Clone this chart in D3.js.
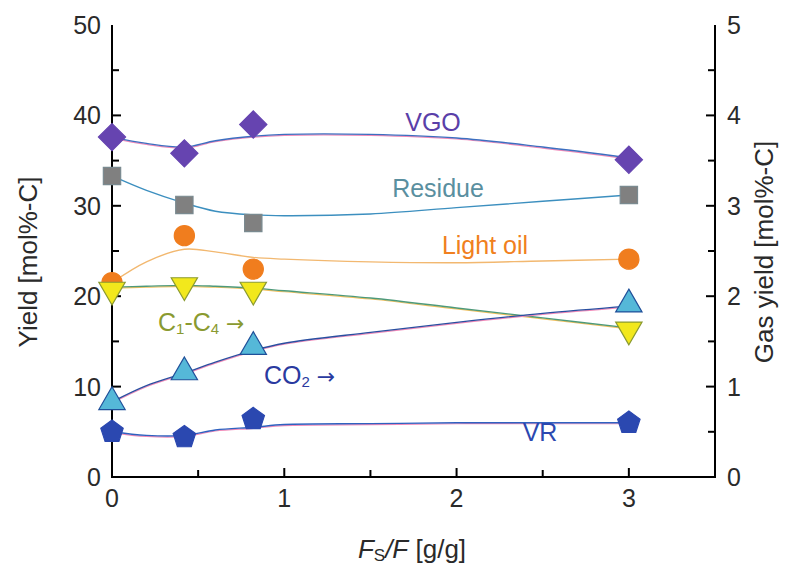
<!DOCTYPE html>
<html><head><meta charset="utf-8">
<script src="https://cdn.jsdelivr.net/npm/d3@7"></script>
<style>body{margin:0;background:#fff}svg{display:block;font-family:"Liberation Sans",Arial,sans-serif}</style>
</head><body><svg id="c" width="785" height="577"></svg>
<script>
// ---- data ----
const xPoints = [0, 0.42, 0.82, 3];
const vgo     = [37.6, 35.8, 39.0, 35.1];
const residue = [33.3, 30.1, 28.1, 31.2];
const lightOil= [21.5, 26.7, 23.0, 24.1];
const vr      = [5.0, 4.4, 6.4, 6.0];
const c1c4    = [2.07, 2.12, 2.07, 1.63];   // gas yield axis
const co2     = [0.83, 1.16, 1.44, 1.91];   // gas yield axis
// fitted curves
const fitX       = [0, 0.2, 0.42, 0.6, 0.82, 1.0, 1.5, 2.0, 2.5, 3.0];
const vgoFit     = [37.6, 36.9, 36.5, 37.2, 37.7, 37.9, 37.9, 37.5, 36.5, 35.3];
const residueFit = [33.3, 31.7, 30.3, 29.4, 29.0, 28.9, 29.1, 29.8, 30.5, 31.2];
const lightOilFit= [21.5, 23.8, 25.2, 24.9, 24.3, 24.1, 23.8, 23.7, 23.9, 24.1];
const vrFit      = [5.0, 4.6, 4.6, 5.2, 5.5, 5.8, 5.9, 6.0, 6.0, 6.0];
const c1c4Fit    = [2.10, 2.11, 2.12, 2.11, 2.09, 2.06, 1.98, 1.87, 1.76, 1.65];
const co2Fit     = [0.83, 1.01, 1.15, 1.27, 1.40, 1.48, 1.60, 1.71, 1.81, 1.89];
const xTicks = [0, 1, 2, 3];
const yTicks = [0, 10, 20, 30, 40, 50];
const y2Ticks = [0, 1, 2, 3, 4, 5];

// ---- layout ----
const L = 112, R = 715, T = 25, B = 477;
const svg = d3.select("#c");
const x = d3.scaleLinear().domain([0, 3.5]).range([L, R]);
const y = d3.scaleLinear().domain([0, 50]).range([B, T]);
const y2 = d3.scaleLinear().domain([0, 5]).range([B, T]);

svg.append("path").attr("d", `M${L},${T}V${B}H${R}V${T}`).attr("fill","none").attr("stroke","#000").attr("stroke-width",2);

const tk = svg.append("g").attr("stroke","#000").attr("stroke-width",2);
d3.range(0, 3.01, 0.5).forEach(v => { const len = Number.isInteger(v) ? 9 : 7;
  if (v > 0) tk.append("line").attr("x1", x(v)).attr("x2", x(v)).attr("y1", B).attr("y2", B - len); });
d3.range(0, 50.1, 5).forEach(v => { const len = v % 10 === 0 ? 9 : 7;
  if (v > 0 && v < 50) tk.append("line").attr("x1", L).attr("x2", L + len).attr("y1", y(v)).attr("y2", y(v)); });
d3.range(0, 5.01, 0.5).forEach(v => { const len = Number.isInteger(v) ? 9 : 7;
  if (v > 0 && v < 5) tk.append("line").attr("x1", R).attr("x2", R - len).attr("y1", y2(v)).attr("y2", y2(v)); });

const lab = svg.append("g").attr("font-size", 25).attr("fill", "#2a2a2a");
xTicks.forEach(v => lab.append("text").attr("x", x(v)).attr("y", 507).attr("text-anchor","middle").text(v));
yTicks.forEach(v => lab.append("text").attr("x", 101).attr("y", y(v) + 9).attr("text-anchor","end").text(v));
y2Ticks.forEach(v => lab.append("text").attr("x", 727).attr("y", y2(v) + 9).attr("text-anchor","start").text(v));

svg.append("text").attr("transform","translate(37,262) rotate(-90)").attr("text-anchor","middle").attr("font-size",26).attr("fill","#2a2a2a").text("Yield [mol%-C]");
svg.append("text").attr("transform","translate(773,252) rotate(-90)").attr("text-anchor","middle").attr("font-size",26).attr("fill","#2a2a2a").text("Gas yield [mol%-C]");
const xt = svg.append("text").attr("x", 412).attr("y", 558).attr("text-anchor","middle").attr("font-size",26).attr("fill","#2a2a2a");
xt.append("tspan").attr("font-style","italic").text("F");
xt.append("tspan").attr("font-size",17).attr("dy",3).text("S");
xt.append("tspan").attr("dy",-3).attr("font-style","italic").text("/F");
xt.append("tspan").text(" [g/g]");

const line = (ys, sc) => d3.line().x((d,i)=>x(fitX[i])).y(d=>sc(d)).curve(d3.curveCatmullRom.alpha(0.5))(ys);
const curves = [
  {d: vgoFit, sc: y, c: "#3d6fc0", u: "#f08ab8"},
  {d: residueFit, sc: y, c: "#3c8fbf", u: null},
  {d: lightOilFit, sc: y, c: "#f2b870", u: null},
  {d: c1c4Fit, sc: y2, c: "#4e9a7a", u: "#f2c060"},
  {d: co2Fit, sc: y2, c: "#2a4fa0", u: "#f08ab8"},
  {d: vrFit, sc: y, c: "#2f62c0", u: "#f08ab8"}
];
curves.forEach(cv => {
  if (cv.u) svg.append("path").attr("d", line(cv.d, cv.sc)).attr("transform","translate(0,1)").attr("fill","none").attr("stroke",cv.u).attr("stroke-width",1.2);
  svg.append("path").attr("d", line(cv.d, cv.sc)).attr("fill","none").attr("stroke",cv.c).attr("stroke-width",1.4);
});

const pentagon = { draw(ctx, size) {
  const r = Math.sqrt(size / 2.378);
  for (let k = 0; k < 5; k++) {
    const a = -Math.PI / 2 + k * 2 * Math.PI / 5;
    k ? ctx.lineTo(r * Math.cos(a), r * Math.sin(a)) : ctx.moveTo(r * Math.cos(a), r * Math.sin(a));
  }
  ctx.closePath();
}};
function pts(vals, sc, type, size, fill, stroke, rot) {
  const sym = d3.symbol().type(type).size(size);
  vals.forEach((v,i) => svg.append("path").attr("d", sym())
    .attr("transform", `translate(${x(xPoints[i])},${sc(v)}) rotate(${rot||0})`)
    .attr("fill", fill).attr("stroke", stroke).attr("stroke-width", 1.2));
}
pts(lightOil, y, d3.symbolCircle, 320, "#f07d1e", "#f07d1e");
pts(residue, y, d3.symbolSquare, 300, "#808080", "#7a8a90");
pts(vgo, y, d3.symbolSquare, 370, "#6644b0", "#6644b0", 45);
pts(co2, y2, d3.symbolTriangle, 300, "#55b8d8", "#1f4f99");
pts(c1c4, y2, d3.symbolTriangle, 300, "#f2e81c", "#8a9a30", 180);
pts(vr, y, pentagon, 330, "#2b48b0", "#2b48b0", 0);

const sl = svg.append("g").attr("font-size", 25);
sl.append("text").attr("x", 433).attr("y", 131).attr("text-anchor","middle").attr("fill","#5a3fa8").text("VGO");
sl.append("text").attr("x", 438).attr("y", 197).attr("text-anchor","middle").attr("fill","#5a8f9f").text("Residue");
sl.append("text").attr("x", 485).attr("y", 254).attr("text-anchor","middle").attr("fill","#f08020").text("Light oil");
const c1 = sl.append("text").attr("x", 158).attr("y", 331).attr("fill","#8a9a30");
c1.append("tspan").text("C"); c1.append("tspan").attr("font-size",15).attr("dy",3).text("1");
c1.append("tspan").attr("dy",-3).text("-C"); c1.append("tspan").attr("font-size",15).attr("dy",3).text("4");
c1.append("tspan").attr("dy",-3).text(" ");
c1.append("tspan").attr("font-family","DejaVu Sans").attr("font-size",22).text("\u2192");
const c2 = sl.append("text").attr("x", 264).attr("y", 384).attr("fill","#2a3aa0");
c2.append("tspan").text("CO"); c2.append("tspan").attr("font-size",15).attr("dy",3).text("2");
c2.append("tspan").attr("dy",-3).text(" ");
c2.append("tspan").attr("font-family","DejaVu Sans").attr("font-size",22).text("\u2192");
sl.append("text").attr("x", 540).attr("y", 441).attr("text-anchor","middle").attr("fill","#2b48b0").text("VR");
</script></body></html>
